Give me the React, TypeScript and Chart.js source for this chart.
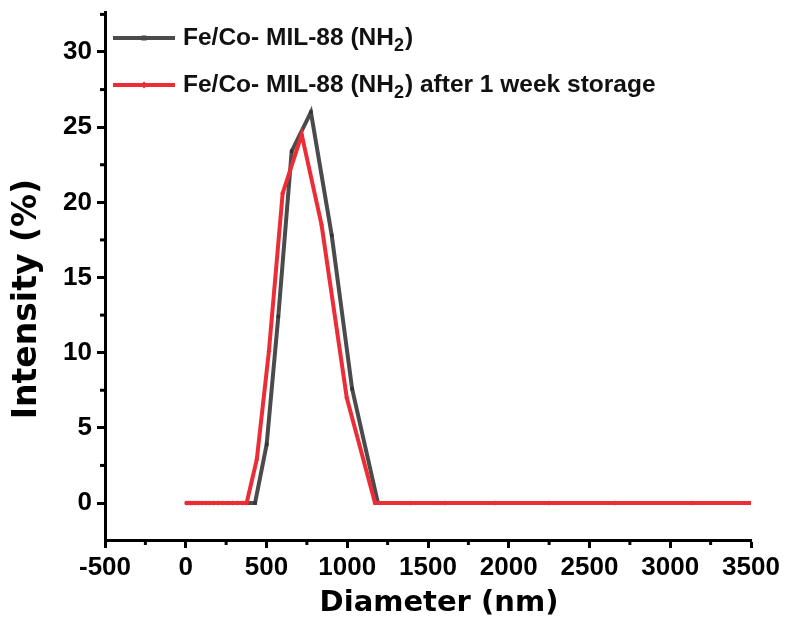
import React, { useEffect, useRef } from "react";
import { Chart, registerables } from "chart.js";

Chart.register(...registerables);

// Size distribution (DLS) of Fe/Co- MIL-88 (NH2), fresh sample
const freshDiameter = [
  5, 20, 40, 60, 80, 100, 130, 160, 190, 220, 260, 300, 340, 380, 429,
  501, 573, 656, 775, 904, 1030, 1190,
  1389, 1605, 1853, 2142, 2472, 2864, 3319,
];
const freshIntensity = [
  0, 0, 0, 0, 0, 0, 0, 0, 0, 0, 0, 0, 0, 0, 0,
  3.9, 12.4, 23.4, 26.0, 17.8, 7.6, 0,
  0, 0, 0, 0, 0, 0, 0,
];

// Same sample after 1 week storage
const storedDiameter = [
  5, 15, 30, 45, 60, 80, 100, 120, 145, 170, 200, 230, 260, 290, 320, 350, 377,
  440, 515, 600, 718, 841, 997, 1172,
  1389, 1605, 1915, 2249, 2658, 3133, 3500,
];
const storedIntensity = [
  0, 0, 0, 0, 0, 0, 0, 0, 0, 0, 0, 0, 0, 0, 0, 0, 0,
  2.9, 10.1, 20.6, 24.5, 18.5, 7.0, 0,
  0, 0, 0, 0, 0, 0, 0,
];

const xTickValues = [-500, 0, 500, 1000, 1500, 2000, 2500, 3000, 3500];
const yTickValues = [0, 5, 10, 15, 20, 25, 30];

const xTitle = "Diameter (nm)";
const yTitle = "Intensity (%)";

const GRAY = "#4b4b4b";
const RED = "#ec2d35";
const TICK_FONT = "'Liberation Sans', Arial, sans-serif";
const TITLE_FONT = "'DejaVu Sans', 'Liberation Sans', sans-serif";

const legendItems = [
  { color: GRAY, marker: "rect", before: "Fe/Co- MIL-88 (NH", sub: "2", after: ")" },
  { color: RED, marker: "rectRot", before: "Fe/Co- MIL-88 (NH", sub: "2", after: ") after 1 week storage" },
];

// short outward minor ticks between the labelled ones
const minorTicks = {
  id: "minorTicks",
  afterDraw(chart: any) {
    const { ctx, chartArea, scales } = chart;
    ctx.save();
    ctx.strokeStyle = "#000";
    ctx.lineWidth = 3;
    const xs = scales.x;
    for (let v = xs.min + 250; v < xs.max; v += 500) {
      const px = xs.getPixelForValue(v);
      ctx.beginPath();
      ctx.moveTo(px, chartArea.bottom);
      ctx.lineTo(px, chartArea.bottom + 5);
      ctx.stroke();
    }
    const ys = scales.y;
    for (let v = 2.5; v < ys.max; v += 5) {
      const py = ys.getPixelForValue(v);
      ctx.beginPath();
      ctx.moveTo(chartArea.left, py);
      ctx.lineTo(chartArea.left - 5, py);
      ctx.stroke();
    }
    ctx.restore();
  },
};

// axis titles, set slightly off the axis centres
const axisTitles = {
  id: "axisTitles",
  afterDraw(chart: any) {
    const { ctx, chartArea } = chart;
    ctx.save();
    ctx.fillStyle = "#000";
    ctx.textAlign = "center";
    ctx.textBaseline = "middle";
    ctx.font = `bold 29px ${TITLE_FONT}`;
    ctx.fillText(xTitle, (chartArea.left + chartArea.right) / 2 + 11, chartArea.bottom + 63);
    ctx.translate(27, (chartArea.top + chartArea.bottom) / 2 + 23);
    ctx.rotate(-Math.PI / 2);
    ctx.font = `bold 33px ${TITLE_FONT}`;
    ctx.fillText(yTitle, 0, 0);
    ctx.restore();
  },
};

// legend with a subscript in the formula
const formulaLegend = {
  id: "formulaLegend",
  afterDraw(chart: any) {
    const { ctx, chartArea } = chart;
    const x0 = chartArea.left + 8;
    const x1 = x0 + 62;
    const tx = x1 + 8;
    const rows = [chartArea.top + 26, chartArea.top + 73];
    ctx.save();
    legendItems.forEach((item, i) => {
      const y = rows[i];
      ctx.strokeStyle = item.color;
      ctx.lineWidth = 4;
      ctx.beginPath();
      ctx.moveTo(x0, y);
      ctx.lineTo(x1, y);
      ctx.stroke();
      ctx.fillStyle = item.color;
      const mx = (x0 + x1) / 2;
      ctx.beginPath();
      if (item.marker === "rect") {
        ctx.rect(mx - 2.5, y - 2.5, 5, 5);
      } else {
        ctx.moveTo(mx, y - 3.5);
        ctx.lineTo(mx + 3.5, y);
        ctx.lineTo(mx, y + 3.5);
        ctx.lineTo(mx - 3.5, y);
        ctx.closePath();
      }
      ctx.fill();

      ctx.fillStyle = "#111";
      ctx.textBaseline = "middle";
      ctx.textAlign = "left";
      const big = `bold 24.5px ${TICK_FONT}`;
      const small = `bold 18px ${TICK_FONT}`;
      ctx.font = big;
      ctx.fillText(item.before, tx, y);
      let cx = tx + ctx.measureText(item.before).width;
      ctx.font = small;
      ctx.fillText(item.sub, cx, y + 8);
      cx += ctx.measureText(item.sub).width + 1;
      ctx.font = big;
      ctx.fillText(item.after, cx, y);
    });
    ctx.restore();
  },
};

export default function App() {
  const canvasRef = useRef<HTMLCanvasElement | null>(null);

  useEffect(() => {
    const canvas = canvasRef.current;
    if (!canvas) return;

    const toPoints = (xs: number[], ys: number[]) => xs.map((x, i) => ({ x, y: ys[i] }));

    const chart = new Chart(canvas, {
      type: "scatter",
      data: {
        datasets: [
          {
            label: "Fe/Co- MIL-88 (NH2) after 1 week storage",
            data: toPoints(storedDiameter, storedIntensity),
            showLine: true,
            borderColor: RED,
            backgroundColor: RED,
            borderWidth: 4,
            pointStyle: "rectRot",
            pointRadius: 2.5,
            pointBorderWidth: 0,
            order: 0,
          },
          {
            label: "Fe/Co- MIL-88 (NH2)",
            data: toPoints(freshDiameter, freshIntensity),
            showLine: true,
            borderColor: GRAY,
            backgroundColor: "#333",
            borderWidth: 4,
            pointStyle: "rect",
            pointRadius: 2.5,
            pointBorderWidth: 0,
            order: 1,
          },
        ],
      },
      options: {
        animation: false,
        responsive: false,
        events: [],
        layout: { padding: { top: 12, right: 37, left: 0, bottom: 0 } },
        plugins: {
          legend: { display: false },
          tooltip: { enabled: false },
        },
        scales: {
          x: {
            type: "linear",
            min: -500,
            max: 3500,
            afterFit: (s: any) => {
              s.height = 87;
              s.paddingLeft = 0;
              s.paddingRight = 0;
            },
            afterBuildTicks: (s: any) => {
              s.ticks = xTickValues.map((value) => ({ value }));
            },
            ticks: {
              color: "#000",
              padding: 4,
              maxRotation: 0,
              autoSkip: false,
              font: { family: TICK_FONT, size: 26, weight: "bold" },
              callback: (v: any) => String(v),
            },
            grid: {
              drawOnChartArea: false,
              drawTicks: true,
              tickLength: 8,
              tickWidth: 3,
              tickColor: "#000",
            },
            border: { display: true, color: "#000", width: 3 },
          },
          y: {
            type: "linear",
            min: -2.46,
            max: 32.66,
            afterFit: (s: any) => {
              s.width = 105;
              s.paddingTop = 0;
              s.paddingBottom = 0;
            },
            afterBuildTicks: (s: any) => {
              s.ticks = yTickValues.map((value) => ({ value }));
            },
            ticks: {
              color: "#000",
              padding: 5,
              autoSkip: false,
              font: { family: TICK_FONT, size: 26, weight: "bold" },
              callback: (v: any) => String(v),
            },
            grid: {
              drawOnChartArea: false,
              drawTicks: true,
              tickLength: 8,
              tickWidth: 3,
              tickColor: "#000",
            },
            border: { display: true, color: "#000", width: 3 },
          },
        },
      },
      plugins: [minorTicks, axisTitles, formulaLegend],
    });

    return () => chart.destroy();
  }, []);

  return (
    <div style={{ position: "fixed", left: 0, top: 0, width: 788, height: 627, background: "#fff" }}>
      <canvas ref={canvasRef} width={788} height={627} />
    </div>
  );
}
